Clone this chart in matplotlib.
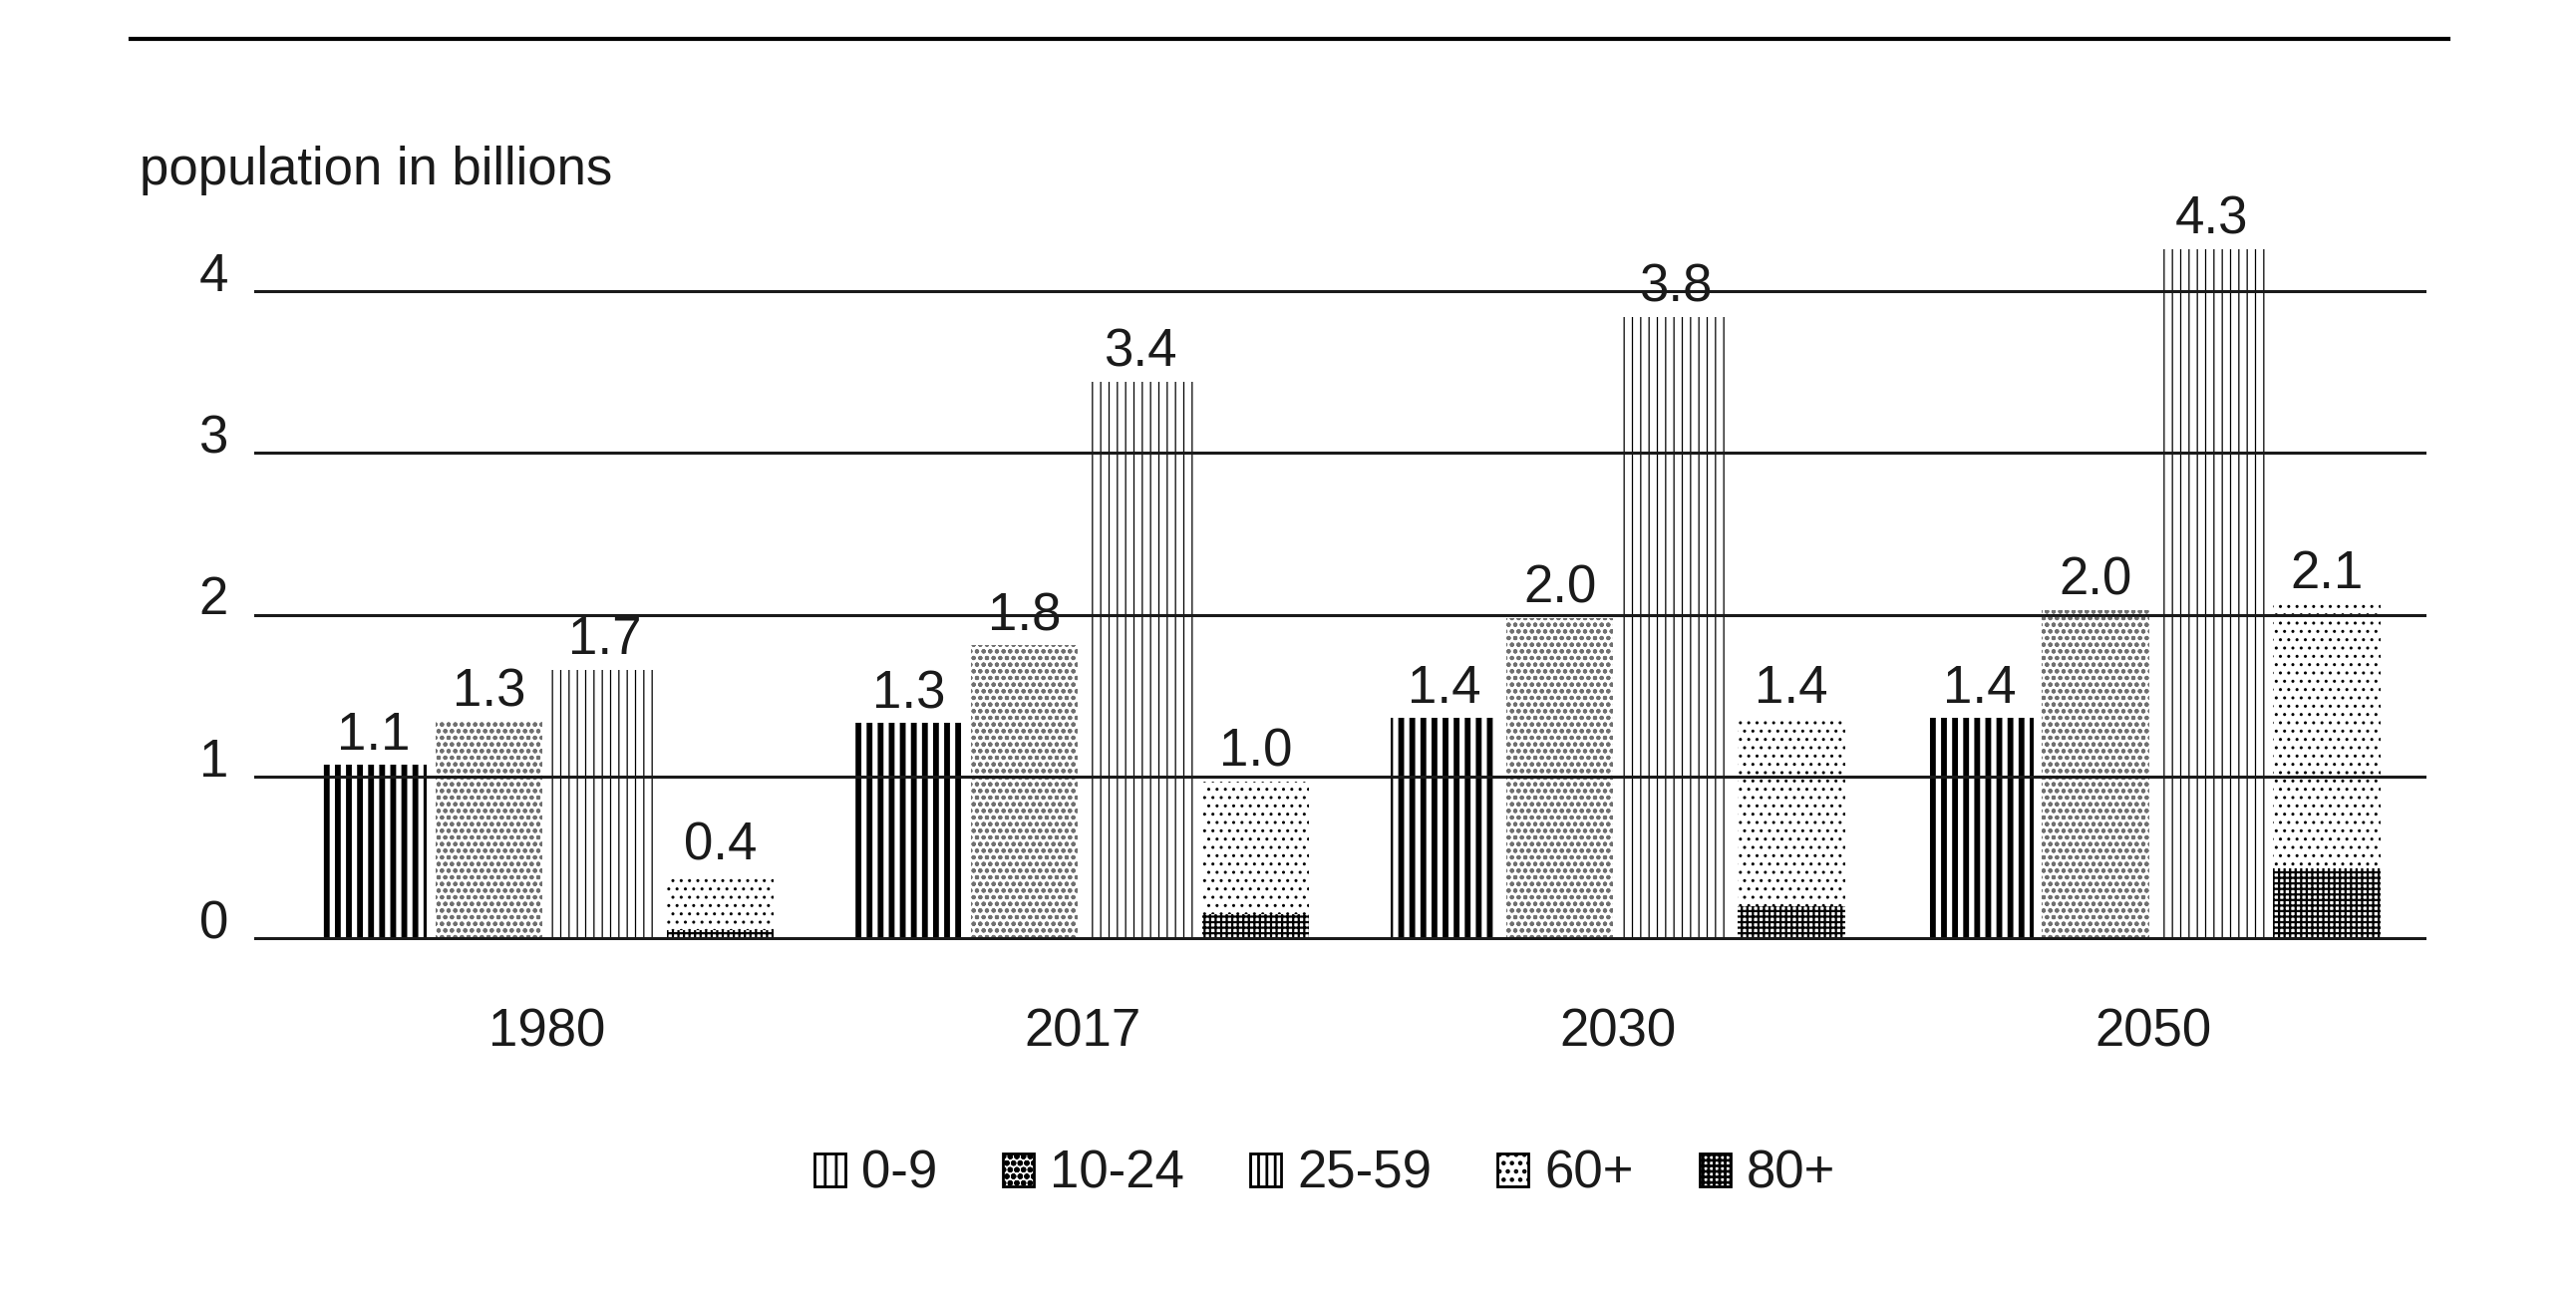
import numpy as np
import matplotlib as mpl
mpl.use('agg')
import matplotlib.pyplot as plt
import matplotlib.patches as mpatches
from matplotlib.lines import Line2D

plt.rcParams['font.family'] = ['Liberation Sans', 'DejaVu Sans']

## data (billions)
years = ['1980', '2017', '2030', '2050']
age_0_9 = [1.07, 1.33, 1.36, 1.36]
age_10_24 = [1.34, 1.81, 1.98, 2.03]
age_25_59 = [1.66, 3.44, 3.84, 4.26]
age_60_plus = [0.39, 0.97, 1.36, 2.07]
age_80_plus = [0.05, 0.15, 0.20, 0.43]

series_names = ['0-9', '10-24', '25-59', '60+', '80+']

## hatch styles per series: (hatch, hatch linewidth in pt, hatch colour, face)
styles = {
    '0-9': ('|||', 2.1, 'black', 'white'),
    '10-24': ('ooooo', 0.6, '#707070', 'white'),
    '25-59': ('||||', 0.45, 'black', 'white'),
    '60+': ('....', 0.5, 'black', 'white'),
    '80+': ('++++++', 0.8, 'black', 'white'),
}

W, H, DPI = 2584, 1312, 200
fig = plt.figure(figsize=(W / DPI, H / DPI), dpi=DPI)

y0, y1 = -0.015, 4.5
px_per_unit = (941 - 292) / 4
bottom_px = 941 + (0 - y0) * px_per_unit
top_px = 941 - y1 * px_per_unit
ax = fig.add_axes([255 / W, 1 - bottom_px / H, (2434 - 255) / W, (bottom_px - top_px) / H])

x = np.arange(len(years))
pitch = 0.216
width = 0.2


def draw_bars(xpos, values, name):
    hatch, hlw, hcol, face = styles[name]
    with plt.rc_context({'hatch.linewidth': hlw}):
        bars = ax.bar(xpos, values, width, facecolor=face, edgecolor=hcol,
                      linewidth=0, hatch=hatch, zorder=1)
        for b in bars:
            if hasattr(b, 'set_hatch_linewidth'):
                b.set_hatch_linewidth(hlw)
    return bars


b1 = draw_bars(x - 1.5 * pitch, age_0_9, '0-9')
b2 = draw_bars(x - 0.5 * pitch, age_10_24, '10-24')
b3 = draw_bars(x + 0.5 * pitch, age_25_59, '25-59')
b4 = draw_bars(x + 1.5 * pitch, age_60_plus, '60+')
b5 = draw_bars(x + 1.5 * pitch, age_80_plus, '80+')

for bars in (b1, b2, b3, b4):
    ax.bar_label(bars, fmt='%.1f', padding=1.5, fontsize=19, color='#1a1a1a')

ax.set_xlim(-0.546, 3.51)
ax.set_ylim(y0, y1)
ax.set_yticks([0, 1, 2, 3, 4])
ax.set_xticks(x)
ax.set_xticklabels(years)
ax.yaxis.grid(True, color='#1a1a1a', linewidth=1.1)
ax.set_axisbelow(False)
ax.tick_params(axis='x', length=0, pad=24, labelsize=19, labelcolor='#1a1a1a')
ax.tick_params(axis='y', length=0, pad=9.4, labelsize=19, labelcolor='#1a1a1a')
for lab in ax.get_yticklabels():
    lab.set_va('baseline')
for s in ax.spines.values():
    s.set_visible(False)

fig.text(140 / W, 1 - 185 / H, 'population in billions', fontsize=19,
         ha='left', va='baseline', color='#1a1a1a')

## rule across the top
fig.add_artist(Line2D([131 / W, 2456 / W], [1 - 39 / H, 1 - 39 / H],
                      color='black', linewidth=1.5))

## legend with outlined square handles
handles = []
for name in series_names:
    hatch, hlw, hcol, face = styles[name]
    with plt.rc_context({'hatch.linewidth': hlw}):
        p = mpatches.Patch(facecolor=face, edgecolor='black', linewidth=1.0, hatch=hatch)
        if hasattr(p, 'set_hatch_linewidth'):
            p.set_hatch_linewidth(hlw)
    handles.append(p)
leg = fig.legend(handles, series_names, loc='center', bbox_to_anchor=(1329 / W, 1 - 1178 / H),
                 ncol=5, frameon=False, fontsize=19, handlelength=0.59, handleheight=0.59,
                 handletextpad=0.3, columnspacing=1.25, labelcolor='#1a1a1a')

fig.savefig('out.png', dpi=DPI)
